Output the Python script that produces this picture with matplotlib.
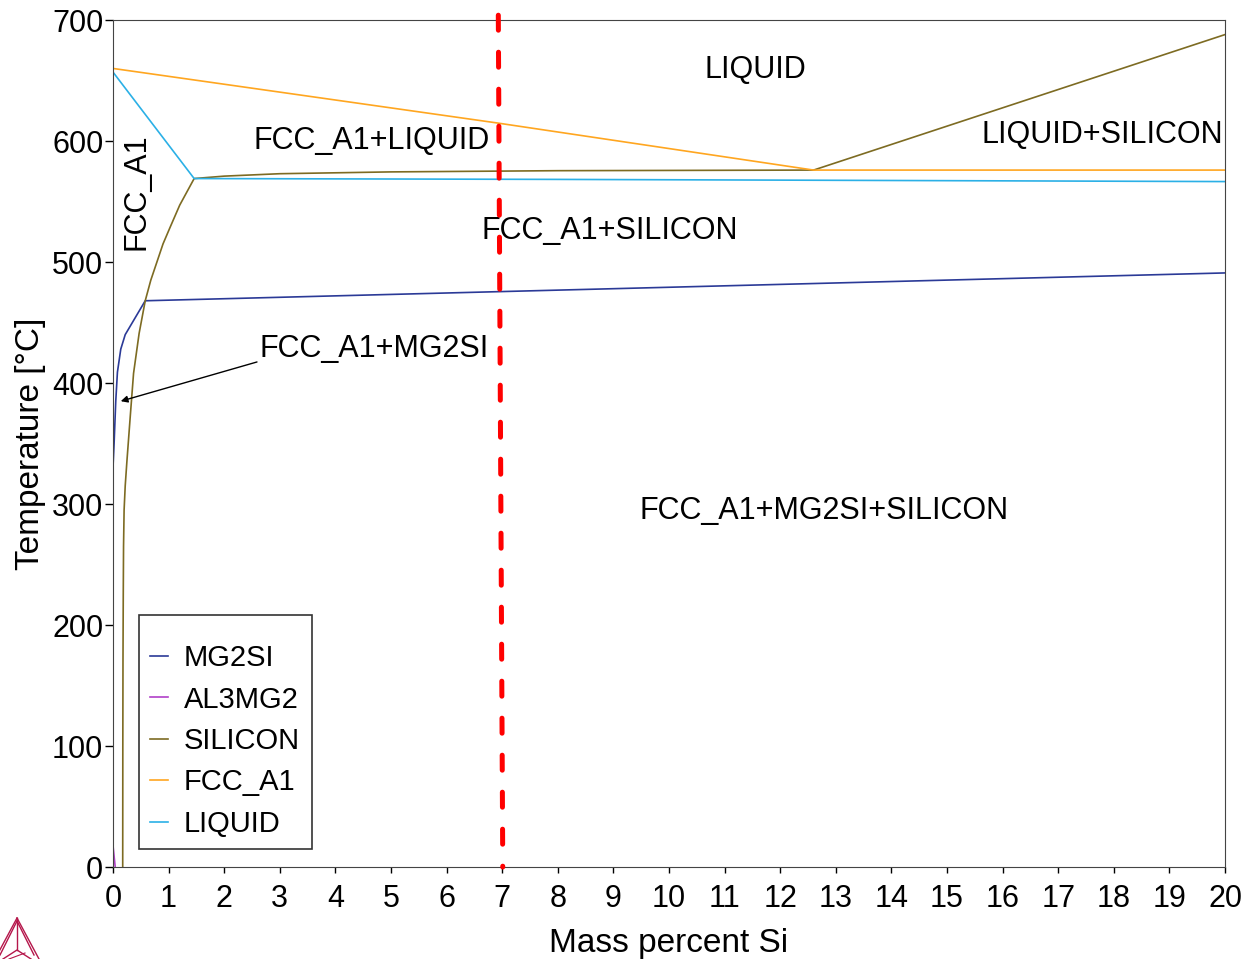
import numpy as np
import matplotlib
matplotlib.use('Agg')
import matplotlib.pyplot as plt

plt.rcParams['font.family'] = ['Liberation Sans', 'DejaVu Sans']

# phase boundary lines (mass % Si, temperature C)
mg2si_x = [0.0, 0.01, 0.02, 0.05, 0.08, 0.14, 0.22, 0.58, 20.0]
mg2si_t = [330, 340, 350, 385, 409, 428, 440, 468, 491]

al3mg2_x = [0.0, 0.04]
al3mg2_t = [18, 0]

silicon_x = [0.175, 0.177, 0.18, 0.185, 0.19, 0.2, 0.22, 0.25, 0.31, 0.37, 0.47,
             0.58, 0.68, 0.79, 0.9, 1.03, 1.2, 1.46,
             2.0, 3.0, 5.0, 8.0, 12.6, 20.0]
silicon_t = [0, 100, 170, 225, 265, 295, 315, 335, 372, 408, 441,
             468, 485, 500, 515, 529, 547, 569,
             571, 573, 574.5, 575.5, 576, 688]

fcc_x = [0.0, 6.9, 12.6, 20.0]
fcc_t = [660, 615, 576, 576]

liquid_x = [0.0, 1.46, 8.0, 20.0]
liquid_t = [657, 569, 568.3, 566.5]

red_x = [6.93, 7.01]
red_t = [704, 0]

labels = ['LIQUID', 'FCC_A1+LIQUID', 'LIQUID+SILICON', 'FCC_A1+SILICON',
          'FCC_A1+MG2SI+SILICON']
label_x = [11.55, 4.66, 17.8, 8.94, 12.79]
label_t = [659, 600, 605, 526, 294]

fig = plt.figure(figsize=(12.47, 9.59), dpi=100)
ax = fig.add_axes([0.0906, 0.0959, 0.8918, 0.8832])

ax.plot(mg2si_x, mg2si_t, color='#2B3A97', lw=1.2, label='MG2SI')
ax.plot(al3mg2_x, al3mg2_t, color='#B040C8', lw=1.2, label='AL3MG2')
ax.plot(silicon_x, silicon_t, color='#7D6B22', lw=1.2, label='SILICON')
ax.plot(fcc_x, fcc_t, color='#FFA620', lw=1.2, label='FCC_A1')
ax.plot(liquid_x, liquid_t, color='#2BB0E6', lw=1.2, label='LIQUID')

ax.plot(red_x, red_t, color='red', lw=3.6, dashes=(3, 4.4),
        dash_capstyle='round', clip_on=False, zorder=5)

for s, x, t in zip(labels, label_x, label_t):
    ax.text(x, t, s, fontsize=22, ha='center', va='center')
ax.text(0.43, 558, 'FCC_A1', fontsize=22, ha='center', va='center', rotation=90)
ax.annotate('FCC_A1+MG2SI', xy=(0.14, 385), xytext=(2.64, 428),
            fontsize=22, ha='left', va='center',
            arrowprops=dict(arrowstyle='-|>', color='black', lw=1,
                            mutation_scale=10, shrinkA=0, shrinkB=0,
                            relpos=(0, 0.1)))

ax.set_xlim(0, 20)
ax.set_ylim(0, 700)
ax.set_xticks(range(0, 21))
ax.set_yticks(range(0, 701, 100))
ax.tick_params(labelsize=22, width=1, direction='out')
ax.tick_params(axis='x', length=4, pad=8)
ax.tick_params(axis='y', length=5.5, pad=1.5)
for sp in ax.spines.values():
    sp.set_color('#444444')
ax.set_xlabel('Mass percent Si', fontsize=24, labelpad=10)
ax.set_ylabel('Temperature [°C]', fontsize=24, labelpad=4)

leg = ax.legend(loc='lower left', bbox_to_anchor=(0.0099, 0.0035), fontsize=21,
                handlelength=0.6, handletextpad=0.55, labelspacing=0.46,
                fancybox=False, framealpha=1, borderpad=0.4,
                title=' ', title_fontsize=3)
leg.get_frame().set_edgecolor('#333333')
leg.get_frame().set_linewidth(1.2)

# small triangular logo in the lower left corner
lax = fig.add_axes([0.0, 0.0, 45 / 1247, 42 / 959])
lax.set_xlim(0, 45)
lax.set_ylim(42, 0)
lax.axis('off')
logo = '#B5174B'
lax.plot([17, -5], [1, 42], color=logo, lw=1)
lax.plot([17, 39], [1, 42], color=logo, lw=1)
lax.plot([17, 0], [4, 38], color=logo, lw=1)
lax.plot([17, 34], [4, 38], color=logo, lw=1)
lax.plot([17, 17], [1, 33], color=logo, lw=1)
lax.plot([3, 17, 31], [42, 33, 42], color=logo, lw=1)
lax.plot([9, 25], [42, 36], color=logo, lw=0.8)

fig.savefig('out.png', dpi=100)
